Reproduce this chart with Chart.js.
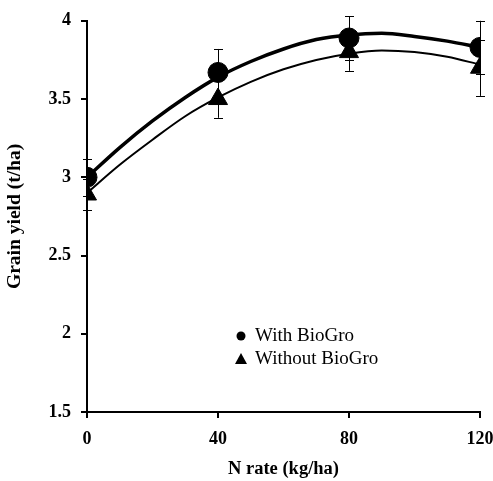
<!DOCTYPE html>
<html>
<head>
<meta charset="utf-8">
<script src="https://cdn.jsdelivr.net/npm/chart.js@4"></script>
<style>
  html, body { margin: 0; padding: 0; background: #fff; }
  #wrap { width: 493px; height: 481px; }
</style>
</head>
<body>
<div id="wrap"><canvas id="yieldChart" width="493" height="481"></canvas></div>
<script>
// N rate (kg/ha)
const nRates = [0, 40, 80, 120];
const withBioGro = [3.00, 3.67, 3.89, 3.83];
const withErr = [0.12, 0.15, 0.14, 0.17];
const withoutBioGro = [2.89, 3.50, 3.80, 3.70];
const withoutErr = [0.10, 0.12, 0.12, 0.18];

// fitted curves
const curveX = [0, 10, 20, 30, 40, 50, 60, 70, 80, 90, 100, 110, 120];
const withCurve = [3.00, 3.19, 3.36, 3.51, 3.64, 3.74, 3.82, 3.88, 3.91, 3.92, 3.90, 3.87, 3.83];
const withoutCurve = [2.90, 3.08, 3.24, 3.39, 3.51, 3.61, 3.69, 3.75, 3.79, 3.81, 3.80, 3.77, 3.72];

const yTicks = [1.5, 2, 2.5, 3, 3.5, 4];
const xTicks = [0, 40, 80, 120];

const serif = "'Liberation Serif', 'Times New Roman', serif";

function pts(xs, ys) {
  return xs.map((x, i) => ({ x: x, y: ys[i] }));
}

const errorBars = {
  id: "errorBars",
  afterDatasetsDraw(chart) {
    const ctx = chart.ctx;
    const xs = chart.scales.x, ys = chart.scales.y;
    ctx.save();
    ctx.strokeStyle = "#000";
    ctx.lineWidth = 1;
    [[withBioGro, withErr], [withoutBioGro, withoutErr]].forEach(([vals, errs]) => {
      vals.forEach((v, i) => {
        const px = Math.round(xs.getPixelForValue(nRates[i])) + 0.5;
        const top = ys.getPixelForValue(v + errs[i]);
        const bot = ys.getPixelForValue(v - errs[i]);
        ctx.beginPath();
        ctx.moveTo(px, top); ctx.lineTo(px, bot);
        ctx.moveTo(px - 4.5, Math.round(top) + 0.5); ctx.lineTo(px + 4.5, Math.round(top) + 0.5);
        ctx.moveTo(px - 4.5, Math.round(bot) + 0.5); ctx.lineTo(px + 4.5, Math.round(bot) + 0.5);
        ctx.stroke();
      });
    });
    ctx.restore();
  }
};

const innerLegend = {
  id: "innerLegend",
  afterDraw(chart) {
    const ctx = chart.ctx;
    ctx.save();
    ctx.fillStyle = "#000";
    ctx.beginPath();
    ctx.arc(241, 336, 4.5, 0, Math.PI * 2);
    ctx.fill();
    ctx.beginPath();
    ctx.moveTo(241, 353); ctx.lineTo(235, 364); ctx.lineTo(247, 364);
    ctx.closePath();
    ctx.fill();
    ctx.font = "19px " + serif;
    ctx.textBaseline = "middle";
    ctx.fillText("With BioGro", 255, 336);
    ctx.fillText("Without BioGro", 255, 359);
    ctx.restore();
  }
};

new Chart(document.getElementById("yieldChart"), {
  type: "scatter",
  data: {
    datasets: [
      {
        label: "With BioGro fit",
        data: pts(curveX, withCurve),
        showLine: true,
        borderColor: "#000",
        borderWidth: 3.5,
        pointRadius: 0,
        cubicInterpolationMode: "monotone"
      },
      {
        label: "Without BioGro fit",
        data: pts(curveX, withoutCurve),
        showLine: true,
        borderColor: "#000",
        borderWidth: 2,
        pointRadius: 0,
        cubicInterpolationMode: "monotone"
      },
      {
        label: "Without BioGro",
        data: pts(nRates, withoutBioGro),
        pointStyle: "triangle",
        pointRadius: 11,
        backgroundColor: "#000",
        borderColor: "#000"
      },
      {
        label: "With BioGro",
        data: pts(nRates, withBioGro),
        pointStyle: "circle",
        pointRadius: 10,
        backgroundColor: "#000",
        borderColor: "#000"
      }
    ]
  },
  options: {
    responsive: false,
    animation: false,
    layout: { padding: { top: 15, right: 0, left: 0, bottom: 0 } },
    plugins: { legend: { display: false }, tooltip: { enabled: false } },
    scales: {
      x: {
        type: "linear",
        min: 0, max: 120,
        afterBuildTicks(scale) { scale.ticks = xTicks.map(v => ({ value: v })); },
        afterFit(scale) { scale.height = 69; scale.paddingRight = 13; },
        border: { display: true, color: "#000", width: 2 },
        grid: { drawOnChartArea: false, color: "#000", tickLength: 6, lineWidth: 2 },
        ticks: { color: "#000", padding: 11, font: { family: serif, size: 18, weight: "bold" } },
        title: {
          display: true, text: "N rate (kg/ha)", color: "#000",
          font: { family: serif, size: 18.5, weight: "bold" }, padding: { top: 4, bottom: 1 }
        }
      },
      y: {
        min: 1.5, max: 4,
        afterBuildTicks(scale) { scale.ticks = yTicks.map(v => ({ value: v })); },
        afterFit(scale) { scale.width = 87; },
        border: { display: true, color: "#000", width: 2 },
        grid: { drawOnChartArea: false, color: "#000", tickLength: 6, lineWidth: 2 },
        ticks: {
          color: "#000", padding: 10,
          font: { family: serif, size: 18, weight: "bold" },
          callback: v => String(v)
        },
        title: {
          display: true, text: "Grain yield (t/ha)", color: "#000",
          font: { family: serif, size: 19.5, weight: "bold" }, padding: { top: 3, bottom: 2 }
        }
      }
    }
  },
  plugins: [errorBars, innerLegend]
});
</script>
</body>
</html>
